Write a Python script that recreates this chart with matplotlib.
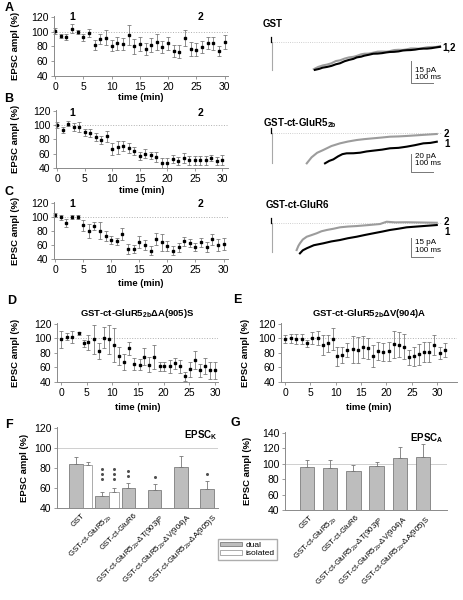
import numpy as np
import matplotlib
matplotlib.use('Agg')
import matplotlib.pyplot as plt
from matplotlib.patches import Patch

plt.rcParams['font.family'] = 'Liberation Sans'
plt.rcParams['mathtext.fontset'] = 'custom'
plt.rcParams['mathtext.rm'] = 'Liberation Sans'
plt.rcParams['mathtext.bf'] = 'Liberation Sans:bold'
plt.rcParams['mathtext.it'] = 'Liberation Sans:italic'

# ---- time courses (time in min, EPSC amplitude in % and s.e.m.) ----
A_t = list(range(31))
A_v = [101, 94, 93, 104, 99.5, 92, 98, 81.5, 90, 91.5, 81, 84, 83, 96, 80, 83,
       76.5, 82, 86, 79, 84, 74, 73, 91.5, 76.5, 75.5, 79.5, 84.5, 84, 74, 86.5]
A_e = [4, 3, 4, 6, 3, 5, 6, 6.5, 7, 10, 7, 8.5, 8.5, 13.5, 10.5, 9.5,
       8, 9, 10.5, 8, 8.5, 8, 8.5, 10.5, 9.5, 9, 8, 8, 8.5, 7, 9.5]

B_t = list(range(31))
B_v = [100.5, 93, 102, 97.5, 97.5, 90, 88.5, 83, 78.5, 84, 66.5, 69, 71, 67.5, 64, 57,
       60, 57.5, 55, 47, 47, 52.5, 50, 54, 50.5, 50.5, 50.5, 50.5, 54, 50, 51.5]
B_e = [4, 4, 4, 6, 7, 5, 5.5, 5.5, 5.5, 8, 8, 9, 7, 7, 6, 6,
       6, 5.5, 7, 6.5, 7, 6, 6, 7, 6.5, 6.5, 6.5, 6.5, 4.5, 6, 7]

C_t = list(range(31))
C_v = [102, 99, 91, 100, 100, 88, 80, 87, 80, 73, 67, 65, 75.5, 54, 54, 63.5,
       60, 52, 68.5, 63.5, 58, 52, 56.5, 65, 62.5, 57, 63.5, 57, 68, 60, 61.5]
C_e = [3, 3, 6, 3, 3, 8, 10, 6, 12, 7, 6, 5, 8, 7, 6, 8.5,
       7, 7, 8, 11.5, 7, 7, 6, 6, 6, 5.5, 7, 6.5, 7.5, 8.5, 9]

D_t = [0, 1.1, 2.2, 3.4, 4.4, 5.3, 6.4, 7.4, 8.4, 9.4, 10.3, 11.3, 12.3, 13.3, 14.2, 15.3,
       16.2, 17.2, 18.2, 19.2, 20.1, 21.2, 22.2, 23.2, 24.2, 25.1, 26.1, 27.1, 28.1, 29.0, 30.0]
D_v = [98.5, 102, 102, 107, 93, 94.5, 98.5, 82.5, 101, 98.5, 91, 76, 67.5, 86, 64.5, 64,
       74.5, 64, 74.5, 61.5, 61.5, 61.5, 65.5, 61.5, 48, 57.5, 70, 56, 62, 56, 56]
D_e = [12, 5, 8, 2, 5, 10, 20, 10.5, 15, 20, 23, 12.5, 11, 9, 8, 8,
       11.5, 10.5, 16, 6, 6, 8.5, 7, 8.5, 6, 10, 12.5, 9, 11.5, 11.5, 11.5]

E_t = [0, 1.1, 2.2, 3.3, 4.3, 5.3, 6.4, 7.4, 8.4, 9.4, 10.3, 11.3, 12.2, 13.4, 14.4, 15.4,
       16.3, 17.3, 18.4, 19.4, 20.4, 21.4, 22.4, 23.4, 24.5, 25.4, 26.4, 27.4, 28.4, 29.4, 30.5, 31.5]
E_v = [99, 100, 99, 99, 93, 100, 100, 91, 93, 99, 75.5, 77, 84, 85, 84, 87.5,
       86, 75.5, 83, 81.5, 82.5, 92, 91, 88.5, 74, 75.5, 78, 81.5, 81.5, 91, 80, 84]
E_e = [5.5, 6, 7, 7, 4.5, 8.5, 9.5, 14, 11.5, 15, 13, 11.5, 9.5, 18.5, 17.5, 15,
       14, 15, 12.5, 12.5, 13, 18.5, 17, 17.5, 10, 13, 14, 14, 14, 14, 8.5, 9.5]

D_title = r'GST-ct-GluR5$_\mathbf{2b}$ΔA(905)S'
E_title = r'GST-ct-GluR5$_\mathbf{2b}$ΔV(904)A'

# ---- example traces (time in ms after stimulus, current in pA) ----
A_name = 'GST'
A_gray_ms = [190, 210, 230, 250, 270, 290, 309, 330, 350, 370, 385, 405, 420, 440, 460, 480,
             500, 520, 536, 555, 575, 595, 612, 630, 650, 670, 688, 705, 725, 745, 764]
A_gray_pA = [-18.5, -17, -16, -15.4, -14.5, -13, -12.5, -11.3, -10.5, -10.1, -9.5, -8.4, -8, -7.9,
             -7.3, -6.6, -6.5, -6.6, -6.2, -5.5, -5.3, -5.4, -5, -4.4, -4.4, -4.6, -4.1, -3.6,
             -3.4, -3.4, -2.8]
A_black_ms = [195, 215, 230, 250, 270, 290, 309, 330, 350, 370, 385, 405, 420, 440, 460, 480,
              500, 520, 536, 555, 575, 595, 612, 630, 650, 670, 688, 705, 725, 745, 764]
A_black_pA = [-19, -18.3, -17.5, -17, -16.3, -15.2, -14.5, -13.1, -12.2, -11.5, -10.5, -10, -9.3,
              -8.7, -8, -7.9, -7.6, -7.1, -6.8, -6.7, -6.4, -5.8, -5.6, -5.5, -5.2, -4.7, -4.5,
              -4.5, -4.2, -3.7, -3.3]

B_name = r'GST-ct-GluR5$_\mathbf{2b}$'
B_gray_ms = [158, 180, 205, 233, 270, 309, 345, 385, 420, 460, 500, 536, 575, 612, 680, 749]
B_gray_pA = [-33.7, -27, -22, -18.9, -14.5, -11.5, -9.5, -7.8, -6.8, -5.9, -5, -4.1, -3.8, -3.3, -2.2, -1.1]
B_black_ms = [241, 260, 279, 300, 320, 339, 370, 400, 430, 461, 500, 536, 575, 612, 650, 688, 720, 749]
B_black_pA = [-33.7, -31, -29.3, -26, -23.5, -22.6, -22.5, -21.9, -20.5, -19.6, -18.5, -17,
              -16.5, -15.2, -13.5, -11.5, -11, -9.7]

C_name = 'GST-ct-GluR6'
C_gray_ms = [112, 120, 127, 140, 158, 180, 203, 225, 249, 280, 309, 345, 385, 440, 491, 521, 560, 612, 680, 749]
C_gray_pA = [-21.3, -18, -16, -13, -10.8, -9.5, -8.1, -6.5, -5.5, -4.5, -3.4, -2.8, -2.4, -1.6, -0.8,
             1, 0.5, 0.6, 0.4, 0.2]
C_black_ms = [127, 140, 158, 190, 233, 270, 309, 345, 385, 420, 461, 500, 536, 575, 612, 650, 688, 749]
C_black_pA = [-23.9, -21.5, -19.9, -17.5, -16, -14.5, -13.4, -12, -10.8, -9.5, -8.1, -6.8, -5.5,
              -4.5, -3.4, -2.9, -2.4, -1.6]

# ---- bar charts ----
groups = ['GST', r'GST-ct-GluR5$_{2b}$', 'GST-ct-GluR6', r'GST-ct-GluR5$_{2b}$-ΔT(903)P',
          r'GST-ct-GluR5$_{2b}$-ΔV(904)A', r'GST-ct-GluR5$_{2b}$-ΔA(905)S']
F_dual = [84, 52, 60, 58, 81, 59]
F_dual_err = [7, 4, 5, 6, 11, 8]
F_iso = [83, 56]
F_iso_err = [3, 4.5]
F_dual_stars = [0, 3, 2, 1, 0, 1]
F_dual_star_y = [0, 69, 72, 71, 0, 74]
F_iso_stars = [0, 3]
F_iso_star_y = [0, 69]
G_dual = [96, 94.5, 91, 97.5, 107.5, 108]
G_dual_err = [9, 10, 7.5, 4.5, 14.5, 18]

W, H = 464, 600
fig = plt.figure(figsize=(W / 100, H / 100), dpi=100)


def box(l, t, w, h):
    return [l / W, 1 - (t + h) / H, w / W, h / H]


def at(x, y):
    return (x / W, 1 - y / H)


AX = '#8a8a8a'


def style(ax, b, ylab_x):
    l, t, w, h = b
    for s in ['top', 'right']:
        ax.spines[s].set_visible(False)
    for s in ['left', 'bottom']:
        ax.spines[s].set_color(AX)
        ax.spines[s].set_linewidth(0.7)
    ax.tick_params(direction='out', length=2, width=0.6, color=AX, labelsize=7.5, pad=2)
    ax.set_ylabel('EPSC ampl (%)', fontsize=6.8, fontweight='bold')
    ax.yaxis.set_label_coords((ylab_x - l) / w, 0.5)


def time_panel(b, t, v, e, xlim, ylab_x, xlab_top):
    l, tp, w, h = b
    ax = fig.add_axes(box(*b))
    ax.axhline(100, color='#b0b0b0', lw=0.7, ls=':', zorder=0)
    ax.errorbar(t, v, yerr=e, fmt='s', ms=1.7, color='black', ecolor='#707070',
                elinewidth=0.55, capsize=1.3, capthick=0.55, clip_on=False)
    ax.set_xlim(*xlim)
    ax.set_ylim(40, 121)
    ax.set_yticks([40, 60, 80, 100, 120])
    ax.set_xticks([0, 5, 10, 15, 20, 25, 30])
    style(ax, b, ylab_x)
    ax.set_xlabel('time (min)', fontsize=6.8, fontweight='bold')
    ax.xaxis.set_label_coords(0.5, -(xlab_top - (tp + h)) / h)
    return ax


def trace_panel(t0, base, px_ms, px_pa, top, bottom, gray, black, stim):
    left, right = 262, 452
    ax = fig.add_axes([left / W, 1 - bottom / H, (right - left) / W, (bottom - top) / H])
    ax.set_xlim((left - t0) / px_ms, (right - t0) / px_ms)
    ax.set_ylim(-(bottom - base) / px_pa, (base - top) / px_pa)
    ax.axis('off')
    ax.plot([0, 770], [0, 0], color='#c0c0c0', lw=0.6, ls=':')
    ax.plot([0, 0], [0, stim], color='#a8a8a8', lw=0.8)
    ax.plot([-6, -6], [0, 5 / px_pa], color='black', lw=0.9)
    ax.plot(gray[0], gray[1], color='#9c9c9c', lw=1.5)
    ax.plot(black[0], black[1], color='black', lw=1.5)
    return ax


def scale_bar(ax, x, y, pa_len, label_pa, ty1, ty2):
    ax.plot([x, x, x + 100], [y + pa_len, y, y], color='#777777', lw=0.7)
    ax.text(x + 18, ty1, label_pa, fontsize=5.8, va='center', ha='left')
    ax.text(x + 18, ty2, '100 ms', fontsize=5.8, va='center', ha='left')


# panel letters
for lab, x, y in [('A', 9, 8), ('B', 9, 99), ('C', 9, 192), ('D', 12, 301),
                  ('E', 237, 300), ('F', 9, 425), ('G', 235, 423)]:
    fig.text(*at(x, y), lab, fontsize=9, fontweight='bold', ha='center', va='center')

# ---- A, B, C time courses ----
axA = time_panel((54, 16, 174, 60), A_t, A_v, A_e, (-0.2, 30.6), 20, 93)
axB = time_panel((56, 110, 172, 58), B_t, B_v, B_e, (-0.2, 31.0), 20, 186)
axC = time_panel((54, 202, 174, 57), C_t, C_v, C_e, (-0.2, 30.8), 20, 279)
for y in [17, 113, 204]:
    fig.text(*at(72, y), '1', fontsize=7.5, fontweight='bold', ha='center', va='center')
    fig.text(*at(201, y), '2', fontsize=7.5, fontweight='bold', ha='center', va='center')

# ---- traces ----
trA = trace_panel(272, 42, 0.22, 1.467, 28, 92, (A_gray_ms, A_gray_pA), (A_black_ms, A_black_pA), -19)
scale_bar(trA, 632, -27.9, 15, '15 pA', -19.1, -24.5)
trB = trace_panel(272, 133, 0.22, 0.9, 118, 178, (B_gray_ms, B_gray_pA), (B_black_ms, B_black_pA), -33.3)
scale_bar(trB, 632, -43.3, 20, '20 pA', -25.6, -34.4)
trC = trace_panel(272, 223, 0.22, 1.27, 210, 262, (C_gray_ms, C_gray_pA), (C_black_ms, C_black_pA), -22.8)
scale_bar(trC, 632, -26.8, 15, '15 pA', -15.7, -22.0)

fig.text(*at(263, 24), A_name, fontsize=7, fontweight='bold', va='center')
fig.text(*at(263, 123), B_name, fontsize=7, fontweight='bold', va='center')
fig.text(*at(266, 205), C_name, fontsize=7, fontweight='bold', va='center')
fig.text(*at(442, 47), '1,2', fontsize=7, fontweight='bold', va='center')
for y2, y1 in [(134, 144), (222, 232)]:
    fig.text(*at(444, y2), '2', fontsize=7, fontweight='bold', va='center')
    fig.text(*at(444, y1), '1', fontsize=7, fontweight='bold', va='center')

# ---- D, E ----
axD = time_panel((57, 323, 161, 59), D_t, D_v, D_e, (-0.8, 30.6), 20, 403)
axE = time_panel((281, 323, 176, 59), E_t, E_v, E_e, (-0.8, 33.9), 250, 403)
axD.set_title(D_title, fontsize=6.8, fontweight='bold', pad=5)
axE.set_title(E_title, fontsize=6.8, fontweight='bold', pad=5)

# ---- F ----
bF = (57, 427, 161, 81)
axF = fig.add_axes(box(*bF))
x = np.arange(len(groups))
axF.axhline(100, color='#cfcfcf', lw=0.7, zorder=0)
axF.bar(x, F_dual, width=0.52, color='#bdbdbd', edgecolor='#6a6a6a', lw=0.5,
        yerr=[np.zeros(6), F_dual_err], error_kw=dict(ecolor='#777777', elinewidth=0.6, capsize=1.5, capthick=0.6))
xi = np.arange(len(F_iso)) + 0.44
axF.bar(xi, F_iso, width=0.36, color='white', edgecolor='#8a8a8a', lw=0.5,
        yerr=[np.zeros(len(F_iso)), F_iso_err], error_kw=dict(ecolor='#777777', elinewidth=0.6, capsize=1.5, capthick=0.6))
for xs, n, y0 in list(zip(x, F_dual_stars, F_dual_star_y)) + list(zip(xi, F_iso_stars, F_iso_star_y)):
    for k in range(n):
        axF.plot(xs, y0 + 5 * k, marker='o', ms=2.2, color='#505050', mew=0, ls='none')
axF.set_xlim(-0.73, 5.42)
axF.set_ylim(40, 121)
axF.set_yticks([40, 60, 80, 100, 120])
axF.set_xticks(x + 0.2)
axF.set_xticklabels(groups, rotation=45, ha='right', rotation_mode='anchor', fontsize=5.6)
style(axF, bF, 29)
axF.tick_params(axis='x', length=0, labelsize=5.6, pad=3)
axF.text(1.0, 0.9, r'EPSC$_\mathbf{K}$', transform=axF.transAxes, fontsize=7, fontweight='bold',
         ha='right', va='center')

# ---- G ----
bG = (285, 432, 162, 78)
axG = fig.add_axes(box(*bG))
axG.axhline(100, color='#cfcfcf', lw=0.7, zorder=0)
axG.bar(x, G_dual, width=0.62, color='#bdbdbd', edgecolor='#6a6a6a', lw=0.5,
        yerr=[np.zeros(6), G_dual_err], error_kw=dict(ecolor='#777777', elinewidth=0.6, capsize=1.5, capthick=0.6))
axG.set_xlim(-0.95, 6.03)
axG.set_ylim(40, 141)
axG.set_yticks([40, 60, 80, 100, 120, 140])
axG.set_xticks(x + 0.1)
axG.set_xticklabels(groups, rotation=45, ha='right', rotation_mode='anchor', fontsize=5.6)
style(axG, bG, 252)
axG.tick_params(axis='x', length=0, labelsize=5.6, pad=3)
axG.text(0.98, 0.92, r'EPSC$_\mathbf{A}$', transform=axG.transAxes, fontsize=7, fontweight='bold',
         ha='right', va='center')

# legend
handles = [Patch(facecolor='#bdbdbd', edgecolor='#6a6a6a', lw=0.5),
           Patch(facecolor='white', edgecolor='#8a8a8a', lw=0.5)]
fig.legend(handles, ['dual', 'isolated'], loc='upper left', bbox_to_anchor=at(218, 539),
           fontsize=6, fancybox=False, edgecolor='#999999', handlelength=2.6, handleheight=0.5,
           borderpad=0.3, labelspacing=0.15, handletextpad=0.4, borderaxespad=0)

fig.savefig('out.png', dpi=100)
